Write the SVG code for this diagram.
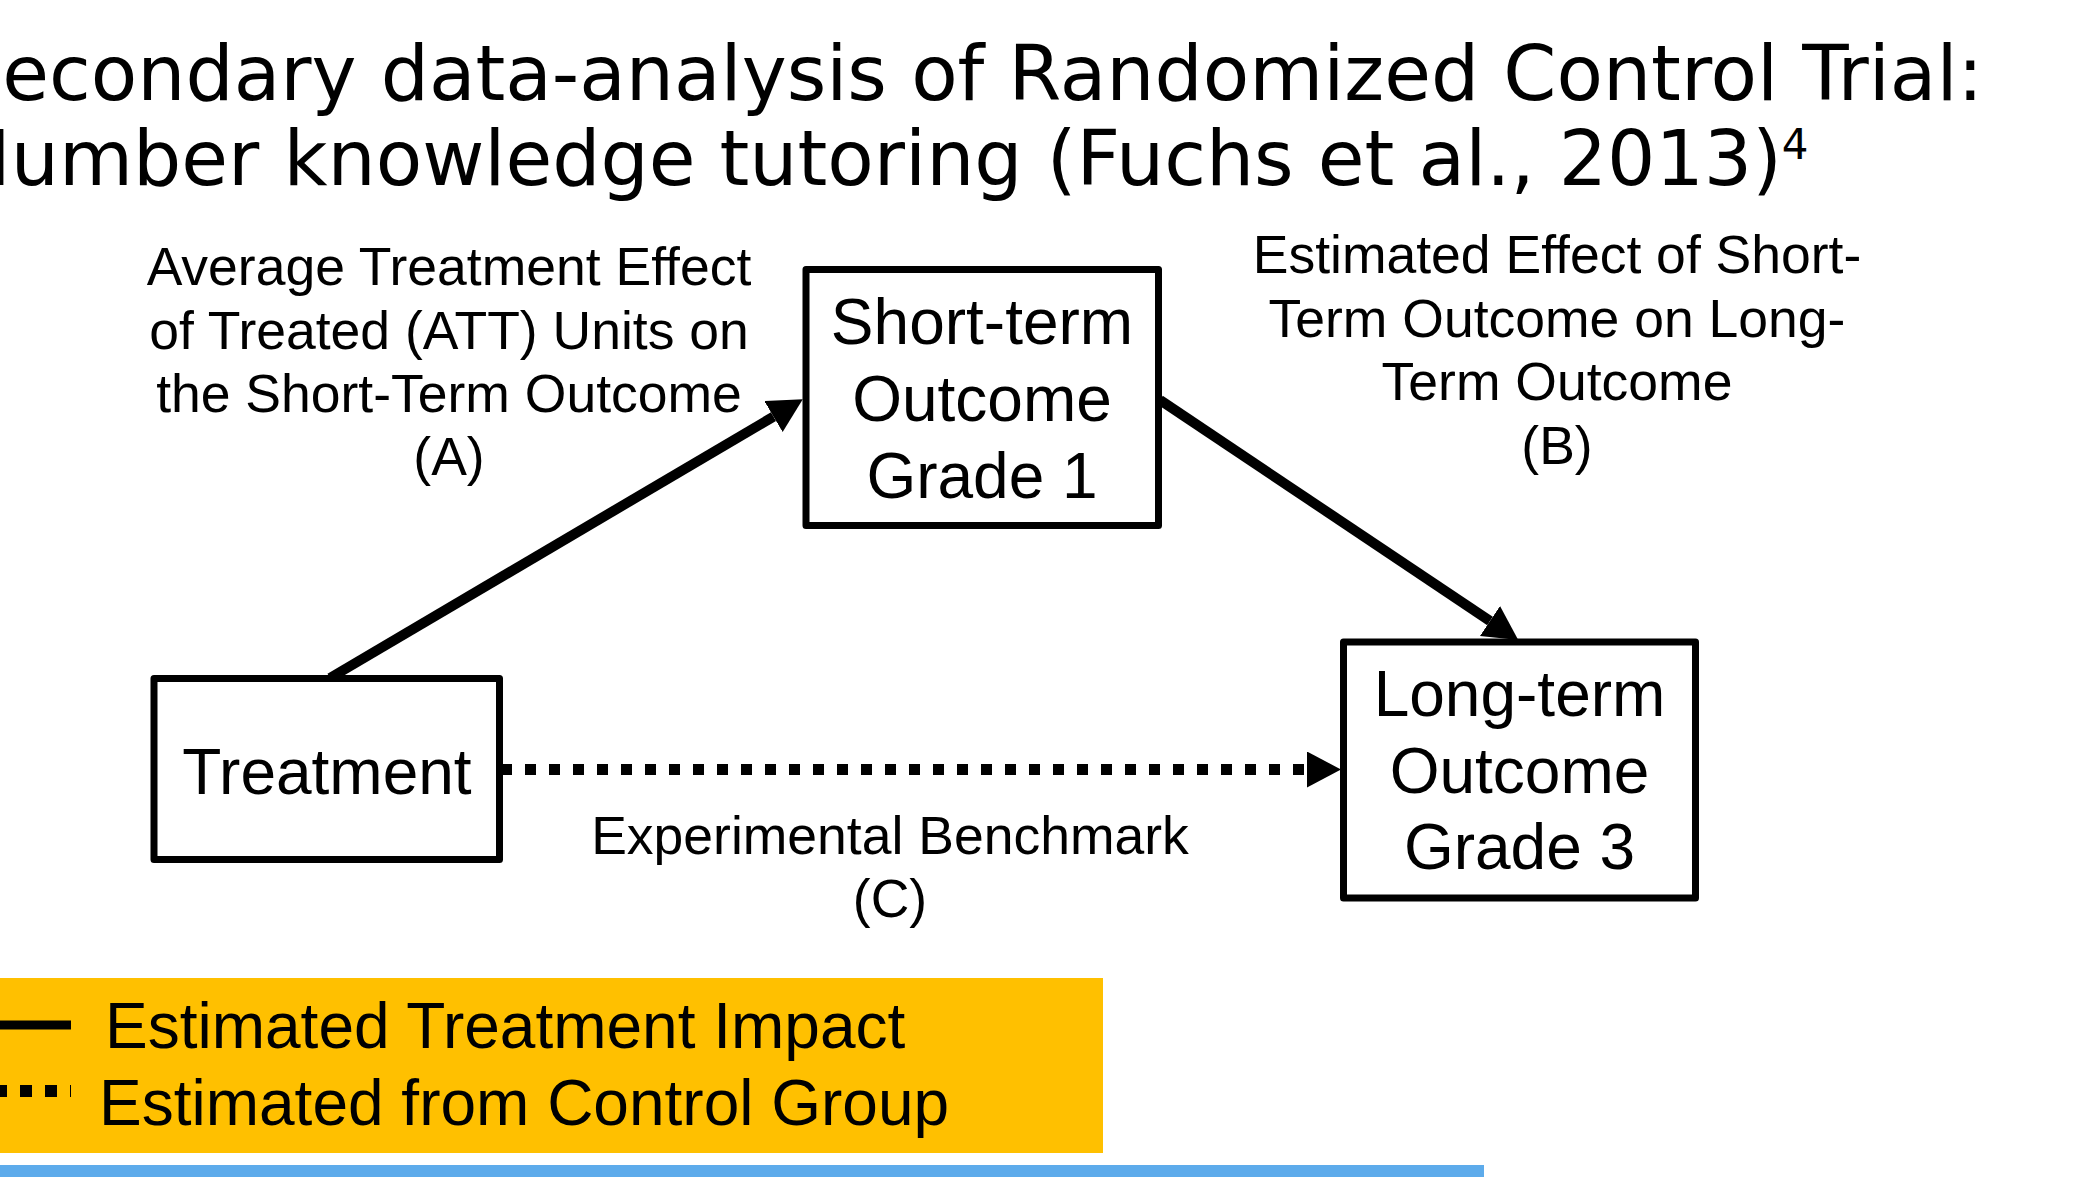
<svg xmlns="http://www.w3.org/2000/svg" width="2075" height="1177" viewBox="0 0 2075 1177">
  <style>
    .title { font-family: "DejaVu Sans", Verdana, sans-serif; font-size: 76px; fill: #000; }
    .box { fill: #fff; stroke: #000; stroke-width: 7; stroke-linejoin: round; }
    .node-text { font-family: "Liberation Sans", Arial, sans-serif; font-size: 64px; fill: #000; text-anchor: middle; }
    .label { font-family: "Liberation Sans", Arial, sans-serif; font-size: 53.5px; fill: #000; text-anchor: middle; }
    .legend-text { font-family: "Liberation Sans", Arial, sans-serif; font-size: 64px; fill: #000; }
    .solid { fill: none; stroke: #000; stroke-width: 10; }
    .dotted { fill: none; stroke: #000; stroke-width: 11; stroke-dasharray: 11 13; }
  </style>
  <defs>
    <marker id="arrow" markerUnits="userSpaceOnUse" markerWidth="36" markerHeight="38" refX="0" refY="18" orient="auto">
      <path d="M0,0 L34,18 L0,36 Z" fill="#000"/>
    </marker>
  </defs>
  <rect x="0" y="0" width="2075" height="1177" fill="#fff"/>

  <g id="title">
    <text class="title" x="-46" y="100">Secondary data-analysis of Randomized Control Trial:</text>
    <text class="title" x="-46" y="185">Number knowledge tutoring (Fuchs et al., 2013)<tspan font-size="42" dy="-26">4</tspan></text>
  </g>

  <g id="connectors">
    <path class="solid" d="M330,678 L773.5,416.6" marker-end="url(#arrow)"/>
    <path class="solid" d="M1160,400 L1490,621" marker-end="url(#arrow)"/>
    <path class="dotted" d="M501,769.5 L1307,769.5" marker-end="url(#arrow)"/>
  </g>

  <g id="node-short-term">
    <rect class="box" x="806" y="269.5" width="352.5" height="256"/>
    <text class="node-text" x="982" y="344">Short-term</text>
    <text class="node-text" x="982" y="421">Outcome</text>
    <text class="node-text" x="982" y="498">Grade 1</text>
  </g>

  <g id="node-treatment">
    <rect class="box" x="154" y="678.5" width="345.5" height="181"/>
    <text class="node-text" x="327" y="794">Treatment</text>
  </g>

  <g id="node-long-term">
    <rect class="box" x="1343.5" y="642" width="352" height="256"/>
    <text class="node-text" x="1519.5" y="716">Long-term</text>
    <text class="node-text" x="1519.5" y="793">Outcome</text>
    <text class="node-text" x="1519.5" y="869">Grade 3</text>
  </g>

  <g id="label-a">
    <text class="label" x="449" y="285">Average Treatment Effect</text>
    <text class="label" x="449" y="348.5">of Treated (ATT) Units on</text>
    <text class="label" x="449" y="412">the Short-Term Outcome</text>
    <text class="label" x="449" y="475">(A)</text>
  </g>

  <g id="label-b">
    <text class="label" x="1557" y="273">Estimated Effect of Short-</text>
    <text class="label" x="1557" y="336.5">Term Outcome on Long-</text>
    <text class="label" x="1557" y="400">Term Outcome</text>
    <text class="label" x="1557" y="463.5">(B)</text>
  </g>

  <g id="label-c">
    <text class="label" x="890" y="854">Experimental Benchmark</text>
    <text class="label" x="890" y="917">(C)</text>
  </g>

  <g id="legend">
    <rect x="0" y="978" width="1103" height="175" fill="#FFC000"/>
    <line x1="0" y1="1025" x2="71" y2="1025" stroke="#000" stroke-width="9"/>
    <line x1="-5" y1="1091" x2="71" y2="1091" stroke="#000" stroke-width="12" stroke-dasharray="12 13"/>
    <text class="legend-text" x="105" y="1048">Estimated Treatment Impact</text>
    <text class="legend-text" x="99" y="1125">Estimated from Control Group</text>
  </g>

  <rect id="footer-bar" x="0" y="1165" width="1484" height="12" fill="#5DABEB"/>
</svg>
